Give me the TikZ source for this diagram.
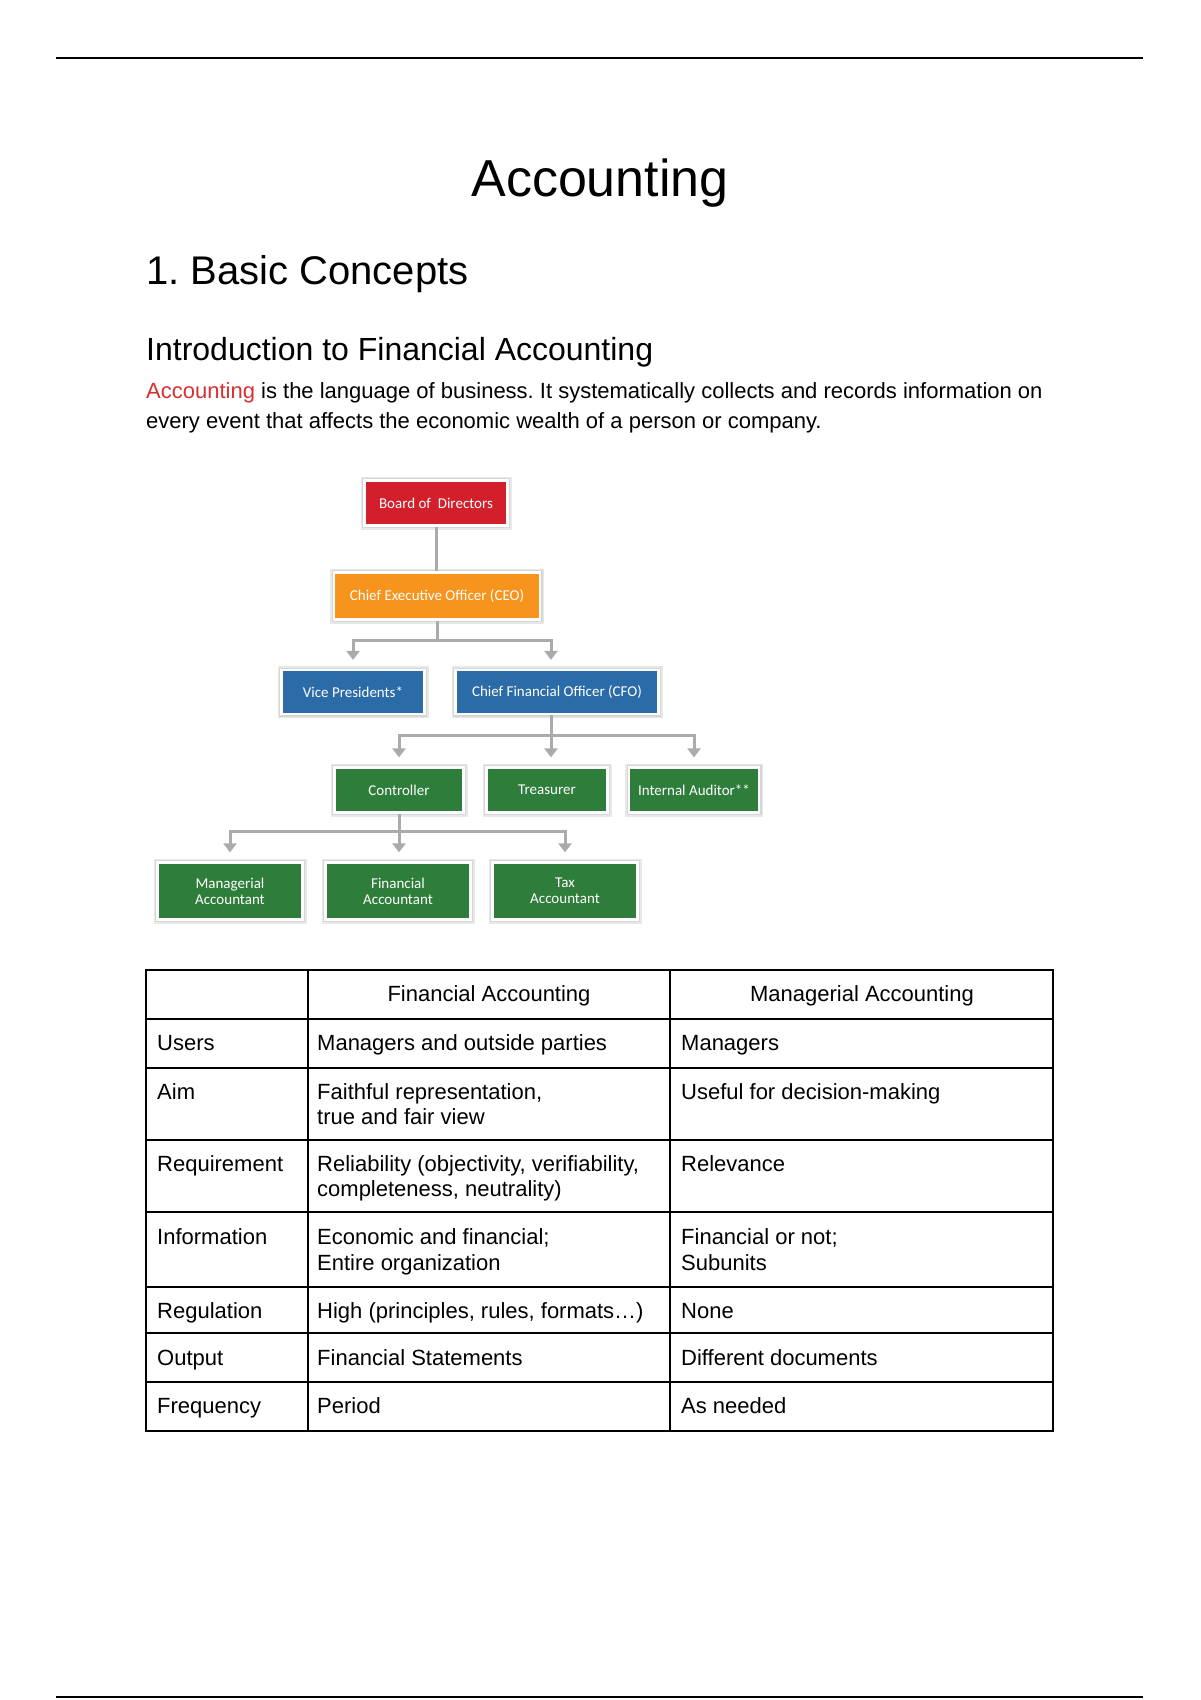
\documentclass[tikz,border=0pt]{standalone}
\usepackage{fontspec}
\setmainfont{Liberation Sans}
\newfontfamily\chartfont{Carlito}
\usetikzlibrary{arrows.meta}
\definecolor{bodred}{HTML}{D21F2B}
\definecolor{ceoorange}{HTML}{F7941E}
\definecolor{vpblue}{HTML}{2B6BA8}
\definecolor{accgreen}{HTML}{2E7D3A}
\definecolor{conngray}{HTML}{ABABAB}
\definecolor{linkred}{HTML}{D63030}
\frenchspacing
\begin{document}
\begin{tikzpicture}[x=1pt,y=-1pt,
  txt/.style={inner sep=0pt, anchor=base west, font=\fontsize{22}{25}\selectfont, align=left},
  orgbox/.style={text=white, font=\chartfont\fontsize{15}{16}\selectfont, draw=white, line width=2.2pt,
    preaction={draw=black!9, line width=8pt}, preaction={draw=black!16, line width=5pt}, inner sep=2pt, align=center},
  conn/.style={draw=conngray, line width=3pt},
  arr/.style={conn, -{Triangle[width=13pt,length=9pt]}, shorten >=9pt},
  grid/.style={line width=1.8pt}]
\useasboundingbox (0,0) rectangle (1200,1700);
\fill[white] (0,0) rectangle (1200,1700);
% page rules
\draw[line width=2pt] (56,57.5) -- (1143,57.5);
\draw[line width=2pt] (56,1697) -- (1143,1697);
% headings
\node[inner sep=0pt, anchor=base, font=\fontsize{52}{60}\selectfont] (title) at (600,196) {Accounting};
\node[inner sep=0pt, anchor=base west, font=\fontsize{40}{48}\selectfont] (h1) at (146,284) {1. Basic Concepts};
\node[inner sep=0pt, anchor=base west, font=\fontsize{32}{38}\selectfont] (h2) at (146,360) {Introduction to Financial Accounting};
\node[txt] (body1) at (146,398) {{\color{linkred}Accounting} is the language of business. It systematically collects and records information on};
\node[txt] (body2) at (146,428) {every event that affects the economic wealth of a person or company.};
% org chart
\node[orgbox, fill=bodred, minimum width=143, minimum height=45] (board) at (436,503) {Board of~~Directors};
\node[orgbox, fill=ceoorange, minimum width=206, minimum height=47] (ceo) at (437,596) {Chief Executive Officer (CEO)};
\node[orgbox, fill=vpblue, minimum width=143, minimum height=44] (vp) at (353,692) {Vice Presidents*};
\node[orgbox, fill=vpblue, minimum width=203, minimum height=44] (cfo) at (557,692) {Chief Financial Officer (CFO)};
\node[orgbox, fill=accgreen, minimum width=129, minimum height=45] (ctrl) at (399,790) {Controller};
\node[orgbox, fill=accgreen, minimum width=121, minimum height=45] (treas) at (547,790) {Treasurer};
\node[orgbox, fill=accgreen, minimum width=130, minimum height=45] (audit) at (694,790) {Internal Auditor**};
\node[orgbox, fill=accgreen, minimum width=145, minimum height=57] (mgr) at (230,891) {Managerial\\Accountant};
\node[orgbox, fill=accgreen, minimum width=145, minimum height=57] (fin) at (398,891) {Financial\\Accountant};
\node[orgbox, fill=accgreen, minimum width=145, minimum height=57] (tax) at (565,891) {Tax\\Accountant};
\coordinate (j1) at (437,640);
\coordinate (j2) at (551,735);
\coordinate (j3) at (399,831);
\draw[conn] (board.south) -- (board.south |- ceo.north);
\draw[conn] (ceo.south) -- (j1);
\draw[arr] (j1) -| (vp.north);
\draw[arr] (j1) -| ([xshift=-6pt]cfo.north);
\draw[conn] ([xshift=-6pt]cfo.south) -- (j2);
\draw[arr] (j2) -| (ctrl.north);
\draw[arr] (j2) -- (j2 |- treas.north);
\draw[arr] (j2) -| (audit.north);
\draw[conn] (ctrl.south) -- (j3);
\draw[arr] (j3) -| (mgr.north);
\draw[arr] (j3) -- (j3 |- fin.north);
\draw[arr] (j3) -| (tax.north);
% table grid
\draw[grid] (146,970) rectangle (1053,1431);
\foreach \yy in {1019,1068,1140,1212,1287,1333,1382} \draw[grid] (146,\yy) -- (1053,\yy);
\draw[grid] (308,970) -- (308,1431);
\draw[grid] (670,970) -- (670,1431);
% table text
\node[txt, anchor=base] (hfa) at (489,1001) {Financial Accounting};
\node[txt, anchor=base] (hma) at (862,1001) {Managerial Accounting};
\node[txt] (r1a) at (157,1050) {Users};
\node[txt] (r1b) at (317,1050) {Managers and outside parties};
\node[txt] (r1c) at (681,1050) {Managers};
\node[txt] (r2a) at (157,1099) {Aim};
\node[txt] (r2b) at (317,1124) {Faithful representation,\\true and fair view};
\node[txt] (r2c) at (681,1099) {Useful for decision-making};
\node[txt] (r3a) at (157,1171) {Requirement};
\node[txt] (r3b) at (317,1196) {Reliability (objectivity, verifiability,\\completeness, neutrality)};
\node[txt] (r3c) at (681,1171) {Relevance};
\node[txt] (r4a) at (157,1244) {Information};
\node[txt, font=\fontsize{22}{26}\selectfont] (r4b) at (317,1270) {Economic and financial;\\Entire organization};
\node[txt, font=\fontsize{22}{26}\selectfont] (r4c) at (681,1270) {Financial or not;\\Subunits};
\node[txt] (r5a) at (157,1318) {Regulation};
\node[txt] (r5b) at (317,1318) {High (principles, rules, formats…)};
\node[txt] (r5c) at (681,1318) {None};
\node[txt] (r6a) at (157,1365) {Output};
\node[txt] (r6b) at (317,1365) {Financial Statements};
\node[txt] (r6c) at (681,1365) {Different documents};
\node[txt] (r7a) at (157,1413) {Frequency};
\node[txt] (r7b) at (317,1413) {Period};
\node[txt] (r7c) at (681,1413) {As needed};
\end{tikzpicture}
\end{document}
